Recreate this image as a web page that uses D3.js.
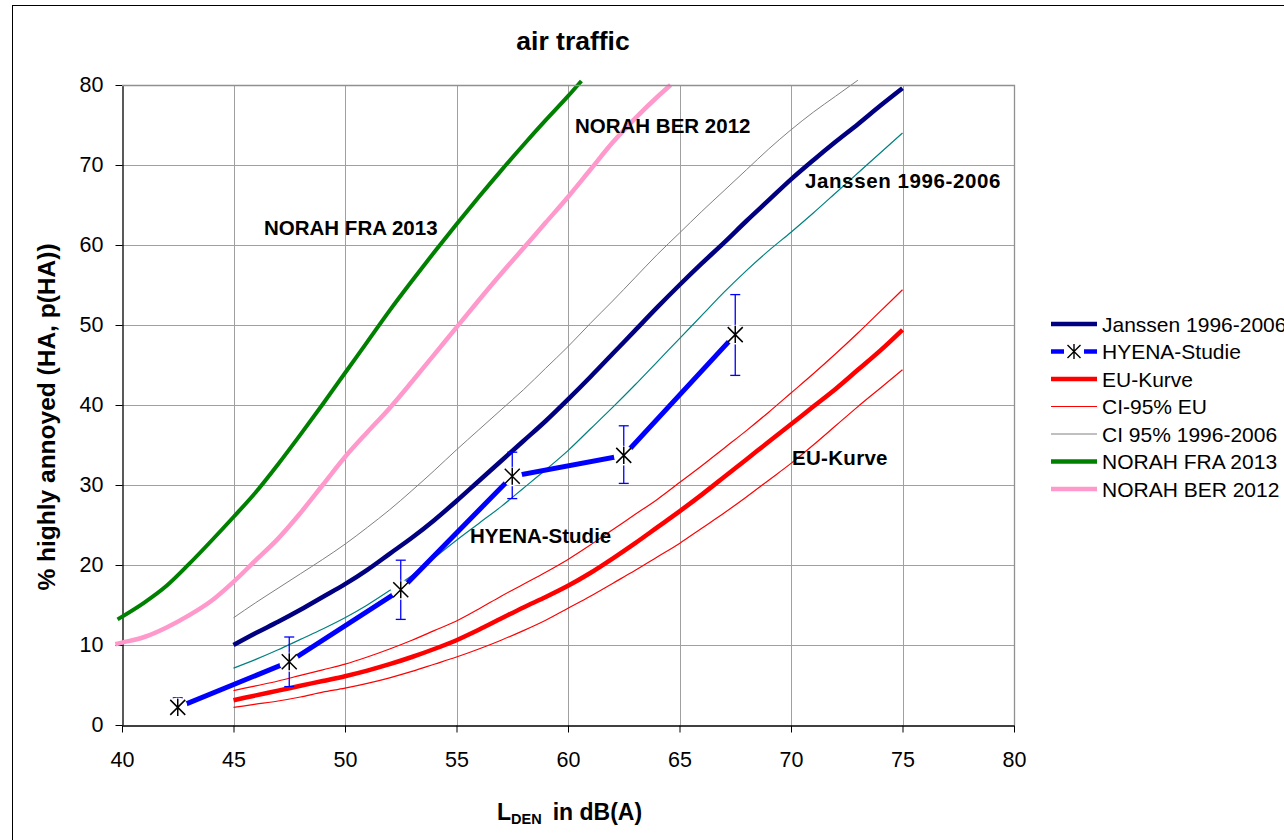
<!DOCTYPE html>
<html>
<head>
<meta charset="utf-8">
<script src="https://cdn.jsdelivr.net/npm/d3@7"></script>
<style>
  html, body { margin: 0; padding: 0; background: #fff; overflow: hidden; }
  svg { display: block; font-family: "Liberation Sans", Arial, sans-serif; }
</style>
</head>
<body>
<svg id="chart" width="1284" height="840"></svg>
<script>
// Exposure levels L_DEN (dB) for the modelled curves
const levels45 = [45,46,47,48,49,50,51,52,53,54,55,56,57,58,59,60,61,62,63,64,65,66,67,68,69,70,71,72,73,74,75];

// Exposure-response curves, % highly annoyed
const janssen = [10.0,11.5,12.9,14.4,16.0,17.6,19.4,21.4,23.4,25.6,28.0,30.5,33.0,35.5,38.0,40.7,43.5,46.4,49.3,52.2,55.0,57.7,60.3,63.0,65.6,68.2,70.6,72.9,75.1,77.4,79.6];
const janssenUpper = [13.4,15.3,17.1,18.9,20.7,22.6,24.7,26.9,29.3,31.8,34.4,36.9,39.4,41.9,44.6,47.3,50.2,53.0,55.9,58.8,61.5,64.2,66.8,69.4,72.0,74.4,76.6,78.6,80.6];
const janssenLower = [7.1,8.2,9.4,10.7,12.0,13.4,15.0,16.8,18.7,20.9,23.1,25.2,27.3,29.6,31.9,34.3,37.0,39.7,42.5,45.4,48.3,51.2,54.1,56.8,59.3,61.6,64.0,66.5,69.0,71.5,74.0];
const euCurve = [3.1,3.7,4.3,4.9,5.5,6.1,6.8,7.6,8.5,9.5,10.6,11.9,13.3,14.7,16.0,17.4,19.0,20.8,22.7,24.7,26.7,28.8,31.0,33.2,35.4,37.6,39.8,42.0,44.4,46.8,49.4];
const euUpper = [4.3,4.9,5.5,6.2,6.9,7.6,8.5,9.5,10.6,11.8,13.0,14.5,16.1,17.6,19.1,20.7,22.5,24.4,26.3,28.2,30.3,32.4,34.6,36.8,39.1,41.5,43.9,46.4,49.0,51.7,54.4];
const euLower = [2.2,2.6,3.0,3.5,4.1,4.6,5.2,5.9,6.7,7.6,8.5,9.5,10.6,11.8,13.1,14.6,16.1,17.7,19.3,21.0,22.7,24.6,26.5,28.5,30.6,32.7,35.0,37.4,39.8,42.1,44.4];

const noraFraLevels = [39.8,41,42,43,44,45,46,47,48,49,50,51,52,53,54,55,56,57,58,59,60,60.6];
const noraFra = [13.2,15.3,17.4,20.1,23.0,26.0,29.1,32.6,36.3,40.1,44.0,47.9,51.8,55.5,59.1,62.6,66.0,69.3,72.5,75.6,78.6,80.5];

const noraBerLevels = [39.7,40,41,42,43,44,45,46,47,48,49,50,51,52,53,54,55,56,57,58,59,60,61,62,63,64,64.6];
const noraBer = [10.1,10.3,11.0,12.2,13.7,15.5,17.9,20.6,23.3,26.5,30.0,33.5,36.6,39.6,42.9,46.3,49.7,53.1,56.4,59.6,62.8,66.0,69.4,72.8,75.8,78.5,80.0];

// HYENA study: group means with 95% confidence limits
const hyenaLevels = [42.5,47.5,52.5,57.5,62.5,67.5];
const hyenaHA = [2.2,7.9,16.9,31.1,33.7,48.8];
const hyenaLow = [1.4,4.8,13.2,28.3,30.2,43.7];
const hyenaHigh = [3.4,11.0,20.6,34.1,37.4,53.8];

const xTicks = [40,45,50,55,60,65,70,75,80];
const yTicks = [0,10,20,30,40,50,60,70,80];

const svg = d3.select("#chart");

// outer chart frame
svg.append("rect").attr("x", 12.5).attr("y", 5.5).attr("width", 1400).attr("height", 1000)
  .attr("fill", "#fff").attr("stroke", "#000").attr("stroke-width", 1);

const x = d3.scaleLinear().domain([40, 80]).range([122, 1014]);
const y = d3.scaleLinear().domain([0, 80]).range([725, 85]);

// grid
const grid = svg.append("g");
grid.selectAll("line.v").data(xTicks.slice(1)).join("line")
  .attr("x1", d => Math.round(x(d)) + 0.5).attr("x2", d => Math.round(x(d)) + 0.5)
  .attr("y1", y(80)).attr("y2", y(0))
  .attr("stroke", "#a0a0a0").attr("stroke-width", 1);
grid.selectAll("line.h").data(yTicks.slice(1)).join("line")
  .attr("y1", d => Math.round(y(d)) + 0.5).attr("y2", d => Math.round(y(d)) + 0.5)
  .attr("x1", x(40)).attr("x2", x(80))
  .attr("stroke", "#a0a0a0").attr("stroke-width", 1);

// axes
const xAxis = svg.append("g").attr("transform", `translate(0,${y(0) + 0.5})`)
  .call(d3.axisBottom(x).tickValues(xTicks).tickSize(7).tickPadding(19).tickSizeOuter(0));
const yAxis = svg.append("g").attr("transform", `translate(${x(40) + 0.5},0)`)
  .call(d3.axisLeft(y).tickValues(yTicks).tickSize(7).tickPadding(12).tickSizeOuter(0));
[xAxis, yAxis].forEach(a => {
  a.select(".domain").attr("stroke", "#000").attr("stroke-width", 1.3);
  a.selectAll(".tick line").attr("stroke", "#000");
  a.selectAll(".tick text").attr("font-size", 21.5).attr("fill", "#000")
    .attr("font-family", "Liberation Sans, Arial, sans-serif");
});

const line = d3.line().x(d => x(d[0])).y(d => y(d[1])).curve(d3.curveMonotoneX);
const zip = (xs, ys) => ys.map((v, i) => [xs[i], v]);

const series = [
  { name: "CI 95% 1996-2006", pts: zip(levels45, janssenUpper), color: "#808080", w: 1 },
  { name: "teal", pts: zip(levels45, janssenLower), color: "#008080", w: 1.2 },
  { name: "CI-95% EU", pts: zip(levels45, euUpper), color: "#ff0000", w: 1.2 },
  { name: "CI-95% EU low", pts: zip(levels45, euLower), color: "#ff0000", w: 1.2 },
  { name: "EU-Kurve", pts: zip(levels45, euCurve), color: "#ff0000", w: 4.5 },
  { name: "NORAH BER 2012", pts: zip(noraBerLevels, noraBer), color: "#ff99cc", w: 4.5 },
  { name: "NORAH FRA 2013", pts: zip(noraFraLevels, noraFra), color: "#008000", w: 4 },
  { name: "Janssen 1996-2006", pts: zip(levels45, janssen), color: "#000080", w: 4.5 }
];
svg.append("g").selectAll("path").data(series).join("path")
  .attr("d", d => line(d.pts)).attr("fill", "none")
  .attr("stroke", d => d.color).attr("stroke-width", d => d.w)
  .attr("stroke-linejoin", "round");

// HYENA series: straight segments, error bars, star markers
const hy = svg.append("g");
const hyPts = hyenaLevels.map((l, i) => ({ l, v: hyenaHA[i], lo: hyenaLow[i], hi: hyenaHigh[i] }));
hy.append("path").attr("d", d3.line().x(d => x(d.l)).y(d => y(d.v))(hyPts))
  .attr("fill", "none").attr("stroke", "#0000ff").attr("stroke-width", 5);
const eb = hy.selectAll("g.eb").data(hyPts).join("g").attr("stroke", "#0000ff").attr("stroke-width", 1.3);
eb.append("line").attr("x1", d => x(d.l)).attr("x2", d => x(d.l)).attr("y1", d => y(d.lo)).attr("y2", d => y(d.hi));
eb.append("line").attr("x1", d => x(d.l) - 5).attr("x2", d => x(d.l) + 5).attr("y1", d => y(d.hi)).attr("y2", d => y(d.hi));
eb.append("line").attr("x1", d => x(d.l) - 5).attr("x2", d => x(d.l) + 5).attr("y1", d => y(d.lo)).attr("y2", d => y(d.lo));

function star(g, cx, cy) {
  g.append("circle").attr("cx", cx).attr("cy", cy).attr("r", 10).attr("fill", "#fff");
  const s = 7.5;
  g.append("path")
    .attr("d", `M${cx - s},${cy - s}L${cx + s},${cy + s}M${cx - s},${cy + s}L${cx + s},${cy - s}M${cx},${cy - s - 1}L${cx},${cy + s + 1}`)
    .attr("stroke", "#000").attr("stroke-width", 1.5).attr("fill", "none");
}
hyPts.forEach(d => {
  const g = hy.append("g");
  star(g, x(d.l), y(d.v));
  g.append("line").attr("x1", x(d.l)).attr("x2", x(d.l)).attr("y1", y(d.v) - 9).attr("y2", y(d.v) - 10)
    .attr("stroke", "#0000ff").attr("stroke-width", 1.3);
});

// plot frame (top and right)
svg.append("path").attr("d", `M${x(40)},${y(80) + 0.5}H${Math.round(x(80)) + 0.5}V${y(0)}`)
  .attr("fill", "none").attr("stroke", "#909090").attr("stroke-width", 1.3);

// curve annotations
const notes = [
  { t: "NORAH FRA 2013", x: 264, y: 235, ls: 0 },
  { t: "NORAH BER 2012", x: 575, y: 133, ls: 0 },
  { t: "Janssen 1996-2006", x: 805, y: 188, ls: 0.6 },
  { t: "HYENA-Studie", x: 470, y: 543, ls: 0 },
  { t: "EU-Kurve", x: 792, y: 465, ls: 0.3 }
];
svg.append("g").selectAll("text").data(notes).join("text")
  .attr("x", d => d.x).attr("y", d => d.y).text(d => d.t)
  .attr("letter-spacing", d => d.ls)
  .attr("font-size", 20.5).attr("font-weight", "bold").attr("fill", "#000");

// title and axis titles
svg.append("text").attr("x", 573).attr("y", 50).attr("text-anchor", "middle")
  .attr("font-size", 26.5).attr("font-weight", "bold").text("air traffic");

const xt = svg.append("text").attr("x", 497).attr("y", 820)
  .attr("font-size", 23).attr("font-weight", "bold");
xt.append("tspan").text("L");
xt.append("tspan").attr("font-size", 14.5).attr("dy", 4).text("DEN");
xt.append("tspan").attr("dy", -4).attr("dx", 11).text("in dB(A)");

svg.append("text").attr("transform", "translate(55,417) rotate(-90)").attr("text-anchor", "middle")
  .attr("font-size", 24.5).attr("font-weight", "bold").text("% highly annoyed (HA, p(HA))");

// legend
const legendItems = [
  { name: "Janssen 1996-2006", color: "#000080", w: 4.5 },
  { name: "HYENA-Studie", color: "#0000ff", w: 4.5, marker: true },
  { name: "EU-Kurve", color: "#ff0000", w: 4.5 },
  { name: "CI-95% EU", color: "#ff0000", w: 1.2 },
  { name: "CI 95% 1996-2006", color: "#808080", w: 1 },
  { name: "NORAH FRA 2013", color: "#008000", w: 4.5 },
  { name: "NORAH BER 2012", color: "#ff99cc", w: 4.5 }
];
const lg = svg.append("g");
legendItems.forEach((d, i) => {
  const ly = 324 + i * 27.5;
  lg.append("line").attr("x1", 1051).attr("x2", 1097).attr("y1", ly).attr("y2", ly)
    .attr("stroke", d.color).attr("stroke-width", d.w);
  if (d.marker) {
    const g = lg.append("g");
    g.append("rect").attr("x", 1064).attr("y", ly - 8).attr("width", 20).attr("height", 16).attr("fill", "#fff");
    const s = 6.5, cx = 1074;
    g.append("path")
      .attr("d", `M${cx - s},${ly - s}L${cx + s},${ly + s}M${cx - s},${ly + s}L${cx + s},${ly - s}M${cx},${ly - s - 1}L${cx},${ly + s + 1}`)
      .attr("stroke", "#000").attr("stroke-width", 1.4);
  }
  lg.append("text").attr("x", 1102).attr("y", ly + 7.5).attr("font-size", 21).attr("fill", "#000").text(d.name);
});
</script>
</body>
</html>
